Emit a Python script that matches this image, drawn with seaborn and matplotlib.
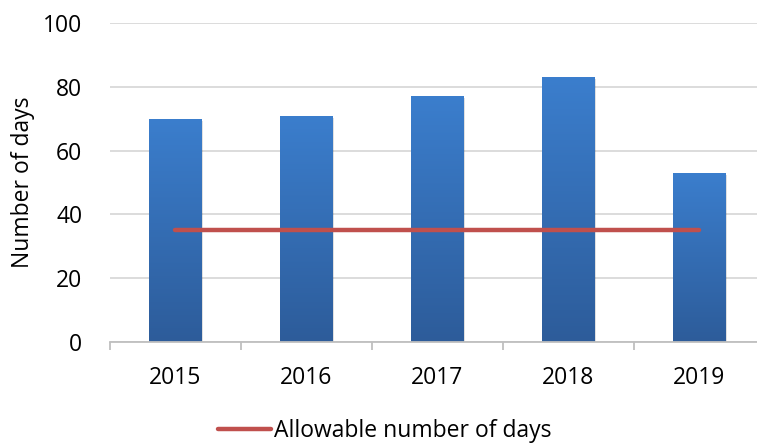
import numpy as np
import matplotlib
matplotlib.use("Agg")
import matplotlib.pyplot as plt
import matplotlib.patheffects as pe
from matplotlib.colors import LinearSegmentedColormap
import seaborn as sns
import pandas as pd

years = ["2015", "2016", "2017", "2018", "2019"]
days = [70, 71, 77, 83, 53]
allowable = [35, 35, 35, 35, 35]
ylabel = "Number of days"
line_label = "Allowable number of days"
yticks = [0, 20, 40, 60, 80, 100]

sns.set_theme(style="white")
plt.rcParams["font.family"] = ["Open Sans", "DejaVu Sans"]

fig = plt.figure(figsize=(7.57, 4.43), dpi=100)
ax = fig.add_axes([0.1453, 0.228, 0.8547, 0.72])

df = pd.DataFrame({"year": years, "days": days})
sns.barplot(data=df, x="year", y="days", ax=ax, color="#3A7DCB", width=0.40,
            zorder=3, edgecolor="none")

cmap = LinearSegmentedColormap.from_list("g", ["#2D5C9A", "#3B7ECD"])
grad = np.linspace(0, 1, 256).reshape(-1, 1)
for p in ax.patches:
    p.set_path_effects([pe.SimplePatchShadow(offset=(1.2, -1.5), shadow_rgbFace="#000000", alpha=0.12),
                        pe.Normal()])
    x0, y0 = p.get_x(), p.get_y()
    w, h = p.get_width(), p.get_height()
    im = ax.imshow(grad, cmap=cmap, origin="lower", aspect="auto",
                   extent=[x0, x0 + w, y0, y0 + h], zorder=4)
    im.set_clip_path(p)

sns.lineplot(x=np.arange(len(years)), y=allowable, ax=ax, color="#C0504D",
             linewidth=3.2, zorder=5, label=line_label, solid_capstyle="round")

ax.set_yticks(yticks)
ax.set_xticks(range(len(years)))
ax.set_xticklabels(years)
# category boundary ticks
ax.set_xticks(np.arange(-0.5, len(years), 1.0), minor=True)
ax.set_xlim(-0.5, 4.44)
ax.set_ylim(0, 100)

ax.grid(axis="y", color="#D9D9D9", linewidth=1.3, zorder=0)
ax.grid(axis="x", visible=False)
for s in ["top", "right", "left"]:
    ax.spines[s].set_visible(False)
ax.spines["bottom"].set_color("#BFBFBF")
ax.spines["bottom"].set_linewidth(1.3)
ax.spines["bottom"].set_zorder(6)

ax.tick_params(axis="x", which="minor", bottom=True, length=6, color="#BFBFBF", width=1.3)
ax.tick_params(axis="x", which="major", bottom=False, labelsize=16.5, pad=11, colors="black")
ax.tick_params(axis="y", left=False, labelsize=16.5, pad=14, colors="black")
ax.set_xlabel("")
ax.set_ylabel(ylabel, fontsize=16.5, color="black")
ax.yaxis.set_label_coords(-0.116, 0.5)

leg = ax.legend(loc="center", bbox_to_anchor=(0.5086, 0.027), bbox_transform=fig.transFigure,
                frameon=False, fontsize=16.5, handlelength=2.3, handletextpad=0.15,
                borderpad=0, borderaxespad=0)
for t in leg.get_texts():
    t.set_color("black")

fig.savefig("out.png", dpi=100)
